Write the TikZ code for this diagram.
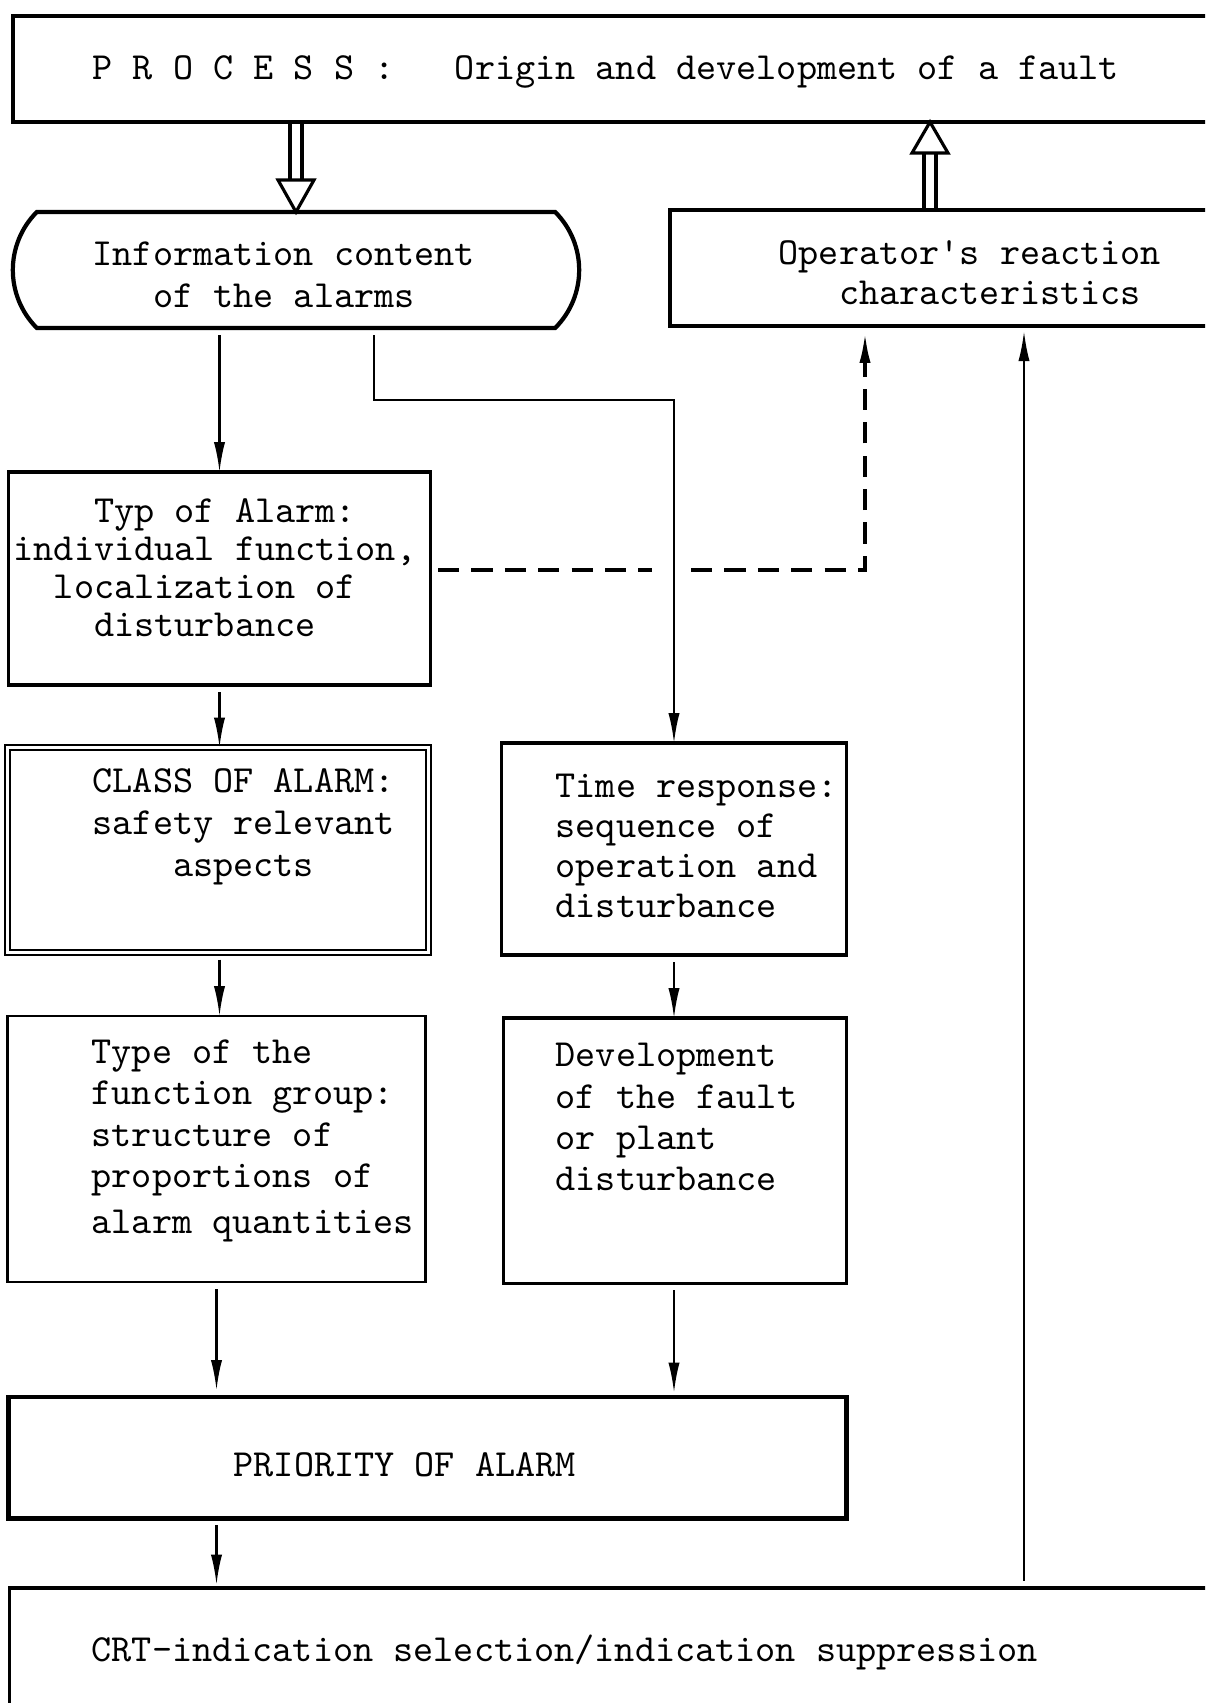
\documentclass[tikz,border=0pt]{standalone}
\usetikzlibrary{arrows.meta,shapes.misc}

\tikzset{
  box/.style={draw, rectangle, inner sep=0pt, outer sep=0pt, line width=0.9pt},
  txt/.style={inner sep=0pt, anchor=west, align=left,
    font=\ttfamily\fontsize{10.9}{#1}\selectfont},
  txt/.default=11.7pt,
  arr/.style={line width=0.6pt, -{Latex[length=8.5pt,width=3.2pt]}, shorten <=2pt},
  hol/.style={line width=0.9pt},
  dashline/.style={line width=0.9pt, dash pattern=on 6pt off 3.5pt},
}

\begin{document}
\begin{tikzpicture}[x=0.01cm, y=-0.01cm]
    \clip (0,0) rectangle (1205,1703);
    \fill[white] (0,0) rectangle (1205,1703);

    % Blocks
    \node[box, line width=1.2pt, minimum width=12.17cm, minimum height=1.06cm] (proc) at (621.5,69) {};
    \node[box, rounded rectangle, rounded rectangle arc length=90, line width=1.2pt,
          minimum width=5.66cm, minimum height=1.16cm] (info) at (296,270) {};
    \node[box, line width=1.2pt, minimum width=5.6cm, minimum height=1.16cm] (oper) at (950,268) {};
    \node[box, minimum width=4.21cm, minimum height=2.13cm] (typ) at (219.5,578.5) {};
    \node[box, double, double distance=0.8pt, line width=0.6pt,
          minimum width=4.21cm, minimum height=2.05cm] (cls) at (218,850) {};
    \node[box, minimum width=3.44cm, minimum height=2.12cm] (resp) at (674,849) {};
    \node[box, line width=0.8pt, minimum width=4.17cm, minimum height=2.66cm] (grp) at (216.5,1149) {};
    \node[box, minimum width=3.42cm, minimum height=2.65cm] (dev) at (675,1150.5) {};
    \node[box, line width=1.4pt, minimum width=8.37cm, minimum height=1.21cm] (prio) at (427.5,1457.5) {};
    \node[box, line width=1pt, minimum width=12.2cm, minimum height=1.72cm] (crt) at (620,1674) {};

    % Texts
    \node[txt] (procT) at (92,72) {P~R~O~C~E~S~S~:~~~Origin and development of a fault};
    \node[txt=12pt] (infoT) at (92,275) {Information content\\~~~of the alarms};
    \node[txt=11.4pt] (operT) at (778,273) {Operator's reaction\\~~~characteristics};
    \node[txt=10.8pt] (typT) at (13,568) {~~~~Typ of Alarm:\\individual function,\\~~localization of\\~~~~disturbance};
    \node[txt=12pt] (clsT) at (92,827) {CLASS OF ALARM:\\safety relevant\\~~~~aspects};
    \node[txt=11.4pt] (respT) at (555,846) {Time response:\\sequence of\\operation and\\disturbance};
    \node[txt] (grpT) at (91,1141) {Type of the\\function group:\\structure of\\proportions of\\[1.4pt]alarm quantities};
    \node[txt] (devT) at (555,1117) {Development\\of the fault\\or plant\\disturbance};
    \node[txt] (prioT) at (233,1465) {PRIORITY OF ALARM};
    \node[txt] (crtT) at (91,1652) {CRT-indication selection/indication suppression};

    % Hollow arrows between process and the two upper blocks
    \coordinate (upX) at (930,0);
    \draw[hol] (proc.south -| info.north) ++(-6,0) -- ++(0,58) ++(12,0) -- ++(0,-58);
    \draw[hol, fill=white] (info.north) -- ++(-18,-32) -- ++(36,0) -- cycle;
    \draw[hol] (oper.north -| upX) ++(-6,0) -- ++(0,-57) ++(12,0) -- ++(0,57);
    \draw[hol, fill=white] (proc.south -| upX) -- ++(-18,31) -- ++(36,0) -- cycle;

    % Signal flow
    \coordinate (bendX) at (374,400);
    \coordinate (backX) at (1024,0);
    \draw[arr] (info.south -| typ.north) -- (typ.north);
    \draw[arr] (info.south -| bendX) -- (bendX) -| (resp.north);
    \draw[arr] (typ.south) -- (typ.south |- cls.north);
    \draw[arr] (cls.south -| typ.south) -- (typ.south |- grp.north);
    \draw[arr] (resp.south) -- (resp.south |- dev.north);
    \draw[arr, shorten >=2pt] (grp.south) -- (grp.south |- prio.north);
    \draw[arr, shorten >=1.3pt] (dev.south -| resp.south) -- (resp.south |- prio.north);
    \draw[arr, shorten >=1pt] (prio.south -| grp.south) -- (grp.south |- crt.north);
    \draw[arr, shorten >=1.5pt] (crt.north -| backX) -- (oper.south -| backX);

    % Dashed feedback, broken where it crosses the time line
    \coordinate (dA) at (438,570);
    \coordinate (dB) at (652,570);
    \coordinate (dC) at (691,570);
    \coordinate (dD) at (865,570);
    \draw[dashline] (dA) -- (dB);
    \draw[arr, dashline, shorten <=0pt, shorten >=2pt] (dC) -- (dD) -- (oper.south -| dD);
\end{tikzpicture}
\end{document}
